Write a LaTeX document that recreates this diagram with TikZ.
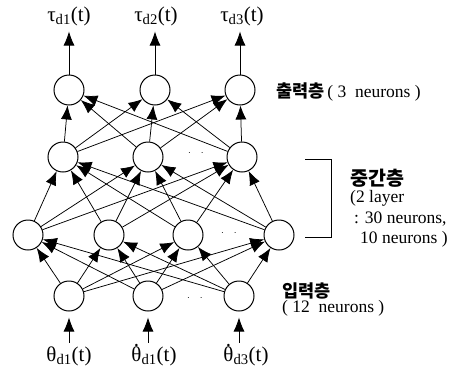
\documentclass[tikz,border=0pt]{standalone}
\usepackage{fontspec}
\setmainfont{Liberation Serif}
\newfontfamily\krfont{Noto Sans CJK KR}
\usetikzlibrary{positioning,arrows.meta}

% theta with a dot above
\newcommand{\thdot}{\ooalign{θ\cr\hidewidth\raisebox{0.72em}{.}\hidewidth\cr}}

\begin{document}
\begin{tikzpicture}[
		x=1pt, y=-1pt,
		>={Latex[length=14pt,width=11pt]},
		neuron/.style={
			draw,
			circle,
			line width=1pt,
			minimum size=30pt,
			inner sep=0pt
		},
		link/.style={->, line width=0.75pt},
		sig/.style={
			font=\fontsize{21}{22}\selectfont,
			inner sep=0pt,
			outer sep=5pt,
			text height=14pt,
			text depth=5pt
		},
		note/.style={
			font=\fontsize{17.5}{20.5}\selectfont,
			anchor=west,
			inner sep=0pt,
			align=left
		}
		]
		
		\useasboundingbox (0,0) rectangle (476,378);
		
		%--------------------------------------------------
		% Layers
		%--------------------------------------------------
		
		\foreach \n/\x in {1/69,2/155,3/240}
		{
			\node[neuron] (out\n) at (\x,90) {};
		}
		\foreach \n/\x in {1/63,2/148,3/242}
		{
			\node[neuron] (hb\n) at (\x,157) {};
		}
		\foreach \n/\x in {1/28,2/109,3/188,4/279}
		{
			\node[neuron] (ha\n) at (\x,235) {};
		}
		\foreach \n/\x in {1/69,2/148,3/239}
		{
			\node[neuron] (in\n) at (\x,296) {};
		}
		
		\node (dotsb) at (196,153) {$\cdot\quad\cdot$};
		\node (dotsa) at (229,233) {$\cdot\quad\cdot$};
		\node (dotsi) at (195,298) {$\cdot\quad\cdot$};
		
		%--------------------------------------------------
		% Connections
		%--------------------------------------------------
		
		\foreach \a in {in1,in2,in3}
		{
			\foreach \b in {ha1,ha2,ha3,ha4}
			{
				\draw[link] (\a) -- (\b);
			}
		}
		\foreach \a in {ha1,ha2,ha3,ha4}
		{
			\foreach \b in {hb1,hb2,hb3}
			{
				\draw[link] (\a) -- (\b);
			}
		}
		\foreach \a in {hb1,hb2,hb3}
		{
			\foreach \b in {out1,out2,out3}
			{
				\draw[link] (\a) -- (\b);
			}
		}
		
		%--------------------------------------------------
		% Inputs and outputs
		%--------------------------------------------------
		
		\node[sig] (tau1) at (69,17) {τ\textsubscript{d1}(t)};
		\node[sig] (tau2) at (156,17) {τ\textsubscript{d2}(t)};
		\node[sig] (tau3) at (242,17) {τ\textsubscript{d3}(t)};
		
		\node[sig] (th1) at (69,357) {θ\textsubscript{d1}(t)};
		\node[sig] (th2) at (154,357) {\thdot\textsubscript{d1}(t)};
		\node[sig] (th3) at (246,357) {\thdot\textsubscript{d3}(t)};
		
		\foreach \n in {1,2,3}
		{
			\draw[link] (out\n) -- (out\n |- tau\n.south);
			\draw[link, shorten >=6pt] (in\n |- th\n.north) -- (in\n);
		}
		
		%--------------------------------------------------
		% Layer notes
		%--------------------------------------------------
		
		\draw[line width=0.8pt] (305,159) -| (331,237) -- (305,237);
		
		\node[note] (noteout) at (276,92)
		{{\krfont\bfseries 출력층}\,( 3~~neurons )};
		\node[note, font=\fontsize{19.5}{20}\selectfont] (notemid) at (350,178)
		{\krfont\bfseries 중간층};
		\node[note, below=3pt of notemid.south west, anchor=north west] (notemidtxt)
		{(2 layer\\
			\hspace*{4pt}: 30 neurons,\\
			\hspace*{10pt}10 neurons )};
		\node[note] (notein) at (282,291)
		{\krfont\bfseries 입력층};
		\node[note, below=1pt of notein.south west, anchor=north west] (noteintxt)
		{( 12~~neurons )};
		
	\end{tikzpicture}
\end{document}
